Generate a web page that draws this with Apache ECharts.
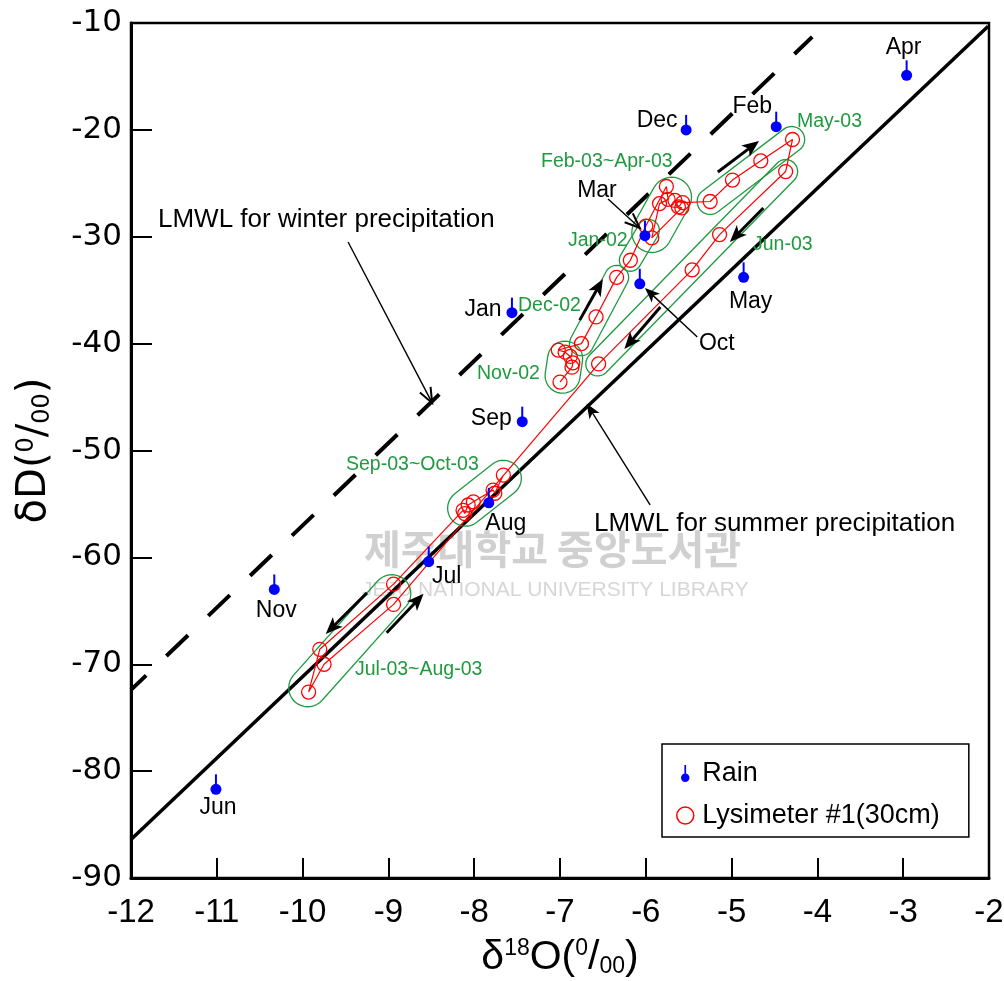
<!DOCTYPE html>
<html>
<head>
<meta charset="utf-8">
<script src="https://cdn.jsdelivr.net/npm/echarts@6/dist/echarts.min.js"></script>
<style>
html, body { margin: 0; padding: 0; background: #fff; }
#chart { width: 1004px; height: 981px; }
</style>
</head>
<body>
<div id="chart"></div>
<script>
// monthly rain samples
const rainMonths = ['Apr', 'Dec', 'Feb', 'Mar', 'Oct', 'May', 'Jan', 'Sep', 'Aug', 'Jul', 'Nov', 'Jun']
const rainO18 = [-2.96, -5.53, -4.48, -6.01, -6.07, -4.86, -7.56, -7.44, -7.83, -8.53, -10.33, -11.01]
const rainD = [-14.9, -20.0, -19.7, -29.9, -34.4, -33.8, -37.1, -47.3, -54.9, -60.4, -63.0, -81.7]

// lysimeter #1 (30cm), in sampling order Nov-02 .. Oct-03
const lysO18 = [-7.00, -6.86, -6.85, -6.88, -6.94, -7.02, -6.75, -6.58, -6.34, -6.18,
  -6.00, -5.76, -5.74, -5.84, -5.93, -5.58, -5.62, -5.66, -5.57, -5.25,
  -4.99, -4.66, -4.29, -4.37, -5.14, -5.46, -6.55, -8.94, -9.75, -9.93,
  -9.80, -8.94, -8.13, -8.11, -8.07, -8.01, -7.78, -7.76, -7.66]
const lysD = [-43.6, -42.2, -41.8, -41.2, -40.8, -40.6, -40.0, -37.5, -33.8, -32.2,
  -29.0, -25.3, -26.5, -26.9, -30.1, -27.3, -27.2, -26.6, -26.8, -26.7,
  -24.7, -22.9, -20.9, -23.9, -29.8, -33.1, -41.9, -64.4, -70.0, -72.6,
  -68.6, -62.5, -55.6, -55.9, -55.1, -54.8, -53.7, -54.0, -52.3]

// local meteoric water lines (end points)
const winterLine = [[-12, -72.4], [-4.06, -11.3]]
const summerLine = [[-12, -86.4], [-2.01, -10.3]]

// period groups drawn round the lysimeter samples: [o18 a, D a, o18 b, D b]
const groupNames = ['Nov-02', 'Dec-02', 'Jan-02', 'Feb-03~Apr-03', 'May-03', 'Jun-03', 'Sep-03~Oct-03', 'Jul-03~Aug-03']
const groupEnds = [
  [-6.94, -41.4, -6.97, -43.0],
  [-6.75, -40.0, -6.34, -33.8],
  [-6.18, -32.2, -5.97, -29.4],
  [-5.93, -29.6, -5.70, -26.3],
  [-5.25, -26.7, -4.30, -20.9],
  [-4.37, -23.9, -6.56, -41.9],
  [-8.10, -55.4, -7.66, -52.6],
  [-9.94, -72.2, -8.96, -63.4]
]
const groupRadius = [17.5, 12, 11, 20, 13, 12, 18, 19]

// direction arrows: [from o18, from D, to o18, to D]
const arrows = [
  [-6.77, -37.8, -6.50, -33.95],
  [-5.16, -23.94, -4.68, -21.04],
  [-4.63, -27.31, -5.02, -30.49],
  [-5.83, -36.57, -6.25, -40.5],
  [-9.25, -63.32, -9.73, -67.16],
  [-9.02, -67.06, -8.59, -63.41],
  [-6.44, -26.46, -6.07, -29.18],
  [-5.40, -39.37, -6.01, -34.79],
  [-9.47, -30.49, -8.49, -45.55],
  [-5.95, -55.09, -6.69, -45.6]
]
const arrowKind = ['block', 'block', 'block', 'block', 'block', 'block', 'open', 'thin', 'open', 'thin']

// where each month label sits, relative to its dot
const rainLabelOffset = [[-3, -28], [-29, -9], [-24, -20], [-48, -45], [77, 60], [7, 24],
  [-29, -3], [-31, -3], [17, 21], [18, 15], [2, 21], [2, 18]]

const GREEN = '#1f9a3f'
const BLUE = '#0000ff'
const FONT = 'Liberation Sans, Arial, sans-serif'
const NARROW = 'Liberation Sans Narrow, Liberation Sans, sans-serif'
const WIDE = 'DejaVu Sans, sans-serif'

const rainIcon = 'path://M4,0 L6,0 L6,15 L4,15 Z M5,10 C7.8,10 10,12.2 10,15 C10,17.8 7.8,20 5,20 C2.2,20 0,17.8 0,15 C0,12.2 2.2,10 5,10 Z'

function renderStem(params, api) {
  const p = api.coord([api.value(0), api.value(1)])
  return {
    type: 'line',
    shape: { x1: p[0], y1: p[1], x2: p[0], y2: p[1] - 15 },
    style: { stroke: BLUE, lineWidth: 2 }
  }
}

function renderGroup(params, api) {
  const p1 = api.coord([api.value(0), api.value(1)])
  const p2 = api.coord([api.value(2), api.value(3)])
  const r = groupRadius[params.dataIndex]
  const a = Math.atan2(p2[1] - p1[1], p2[0] - p1[0])
  const pts = []
  for (let i = 0; i <= 18; i++) {
    const t = a - Math.PI / 2 + Math.PI * i / 18
    pts.push([p2[0] + r * Math.cos(t), p2[1] + r * Math.sin(t)])
  }
  for (let i = 0; i <= 18; i++) {
    const t = a + Math.PI / 2 + Math.PI * i / 18
    pts.push([p1[0] + r * Math.cos(t), p1[1] + r * Math.sin(t)])
  }
  return {
    type: 'polygon',
    shape: { points: pts },
    style: { fill: 'none', stroke: GREEN, lineWidth: 1.3 }
  }
}

function renderArrow(params, api) {
  const p1 = api.coord([api.value(0), api.value(1)])
  const p2 = api.coord([api.value(2), api.value(3)])
  const kind = arrowKind[params.dataIndex]
  const a = Math.atan2(p2[1] - p1[1], p2[0] - p1[0])
  const big = kind === 'block'
  const hl = big ? 17 : 15, hw = big ? 7 : 6
  const ux = Math.cos(a), uy = Math.sin(a)
  const bx = p2[0] - ux * hl, by = p2[1] - uy * hl
  const left = [bx - uy * hw, by + ux * hw]
  const right = [bx + uy * hw, by - ux * hw]
  const end = kind === 'open' ? p2 : [p2[0] - ux * hl * 0.7, p2[1] - uy * hl * 0.7]
  const children = [{
    type: 'line',
    shape: { x1: p1[0], y1: p1[1], x2: end[0], y2: end[1] },
    style: { stroke: '#000', lineWidth: big ? 3 : 1.4 }
  }]
  if (kind === 'open') {
    children.push({
      type: 'polyline',
      shape: { points: [left, p2, right] },
      style: { stroke: '#000', lineWidth: 2, fill: 'none' }
    })
  } else {
    children.push({
      type: 'polygon',
      shape: { points: [left, p2, right, [p2[0] - ux * hl * 0.75, p2[1] - uy * hl * 0.75]] },
      style: { fill: '#000' }
    })
  }
  return { type: 'group', children: children }
}

function greenText(text, x, y) {
  return {
    type: 'text', x: x, y: y, z: 10,
    style: { text: text, fill: GREEN, font: '19.5px ' + FONT, textAlign: 'left', textVerticalAlign: 'middle' }
  }
}
function blackText(text, x, y) {
  return {
    type: 'text', x: x, y: y, z: 10,
    style: { text: text, fill: '#000', font: '26px ' + FONT, textAlign: 'left', textVerticalAlign: 'middle' }
  }
}

const chart = echarts.init(document.getElementById('chart'))

chart.setOption({
  animation: false,
  backgroundColor: '#fff',
  grid: {
    left: 131, right: 15, top: 23, bottom: 103, containLabel: false, outerBoundsMode: 'none',
    show: true, borderColor: '#000', borderWidth: 2.5
  },
  xAxis: {
    type: 'value', min: -12, max: -2, interval: 1,
    axisLine: { onZero: false, lineStyle: { color: '#000', width: 3 } },
    axisTick: { inside: true, length: 20, lineStyle: { color: '#000', width: 2 } },
    splitLine: { show: false },
    axisLabel: { color: '#000', fontSize: 33, fontFamily: NARROW, margin: 18, showMinLabel: true, showMaxLabel: true },
    name: '{a|δ}{s|18}{a|O(}{s|0}{a|/}{b|00}{a|)}',
    nameLocation: 'middle', nameGap: 59,
    nameTextStyle: {
      rich: {
        a: { fontSize: 41, fontFamily: NARROW, color: '#000' },
        s: { fontSize: 23, fontFamily: NARROW, color: '#000', verticalAlign: 'top' },
        b: { fontSize: 23, fontFamily: NARROW, color: '#000', verticalAlign: 'bottom' }
      }
    }
  },
  yAxis: {
    type: 'value', min: -90, max: -10, interval: 10,
    axisLine: { onZero: false, lineStyle: { color: '#000', width: 3 } },
    axisTick: { inside: true, length: 21, lineStyle: { color: '#000', width: 2 } },
    splitLine: { show: false },
    axisLabel: { color: '#000', fontSize: 31, fontFamily: WIDE, margin: 9, showMinLabel: true, showMaxLabel: true },
    name: '{a|δD(}{s|0}{a|/}{b|00}{a|)}',
    nameLocation: 'middle', nameGap: 76, nameRotate: 90,
    nameTextStyle: {
      rich: {
        a: { fontSize: 40, fontFamily: WIDE, color: '#000' },
        s: { fontSize: 24, fontFamily: WIDE, color: '#000', verticalAlign: 'top' },
        b: { fontSize: 24, fontFamily: WIDE, color: '#000', verticalAlign: 'bottom' }
      }
    }
  },
  legend: {
    left: 662, top: 744, orient: 'vertical',
    padding: [16, 29, 8, 14], itemGap: 15, itemWidth: 24, itemHeight: 17,
    borderColor: '#000', borderWidth: 1.5, backgroundColor: '#fff',
    textStyle: { fontSize: 27, fontFamily: FONT, color: '#000' },
    data: [
      { name: 'Rain', icon: rainIcon, itemStyle: { color: BLUE, opacity: 1 } },
      { name: 'Lysimeter #1(30cm)', icon: 'circle', itemStyle: { color: '#fff', borderColor: '#ff0000', borderWidth: 1.5 } }
    ]
  },
  graphic: [
    { type: 'text', x: 364, y: 549, z: 0, silent: true,
      style: { text: '제주대학교 중앙도서관', fill: '#d0d0d0', font: 'bold 40px Noto Sans CJK KR', textVerticalAlign: 'middle' } },
    { type: 'text', x: 362, y: 590, z: 0, silent: true,
      style: { text: 'JEJU NATIONAL UNIVERSITY LIBRARY', fill: '#d6d6d6', font: '21px ' + FONT, textVerticalAlign: 'middle' } },
    blackText('LMWL for winter precipitation', 158, 220),
    blackText('LMWL for summer precipitation', 594, 524),
    greenText('May-03', 797, 122),
    greenText('Feb-03~Apr-03', 541, 162),
    greenText('Jan-02', 568, 241),
    greenText('Jun-03', 753, 245),
    greenText('Dec-02', 518, 306),
    greenText('Nov-02', 477, 374),
    greenText('Sep-03~Oct-03', 346, 465),
    greenText('Jul-03~Aug-03', 355, 670)
  ],
  series: [
    {
      name: 'winter', type: 'line', symbol: 'none', z: 3, silent: true,
      data: winterLine,
      lineStyle: { color: '#000', width: 4, type: [30, 28], dashOffset: 9 }
    },
    {
      name: 'summer', type: 'line', symbol: 'none', z: 3, silent: true,
      data: summerLine,
      lineStyle: { color: '#000', width: 3.5 }
    },
    {
      name: 'groups', type: 'custom', z: 4, silent: true,
      renderItem: renderGroup,
      encode: { x: [0, 2], y: [1, 3] },
      data: groupEnds
    },
    {
      name: 'arrows', type: 'custom', z: 6, silent: true,
      renderItem: renderArrow,
      encode: { x: [0, 2], y: [1, 3] },
      data: arrows
    },
    {
      name: 'Lysimeter #1(30cm)', type: 'line', z: 5,
      data: lysO18.map((x, i) => [x, lysD[i]]),
      symbol: 'circle', symbolSize: 14, showAllSymbol: true,
      lineStyle: { color: '#ff0000', width: 1.2 },
      itemStyle: { color: 'rgba(255,255,255,0)', borderColor: '#ff0000', borderWidth: 1.3 }
    },
    {
      name: 'Rain', type: 'custom', z: 7, silent: true,
      renderItem: renderStem,
      data: rainO18.map((x, i) => [x, rainD[i]])
    },
    {
      name: 'Rain', type: 'scatter', z: 8,
      symbol: 'circle', symbolSize: 11,
      itemStyle: { color: BLUE, opacity: 1 },
      label: { show: true, position: 'inside', formatter: '{b}', color: '#000', fontSize: 23, fontFamily: FONT },
      data: rainO18.map((x, i) => ({
        name: rainMonths[i],
        value: [x, rainD[i]],
        label: { offset: rainLabelOffset[i] }
      }))
    }
  ]
})
</script>
</body>
</html>
